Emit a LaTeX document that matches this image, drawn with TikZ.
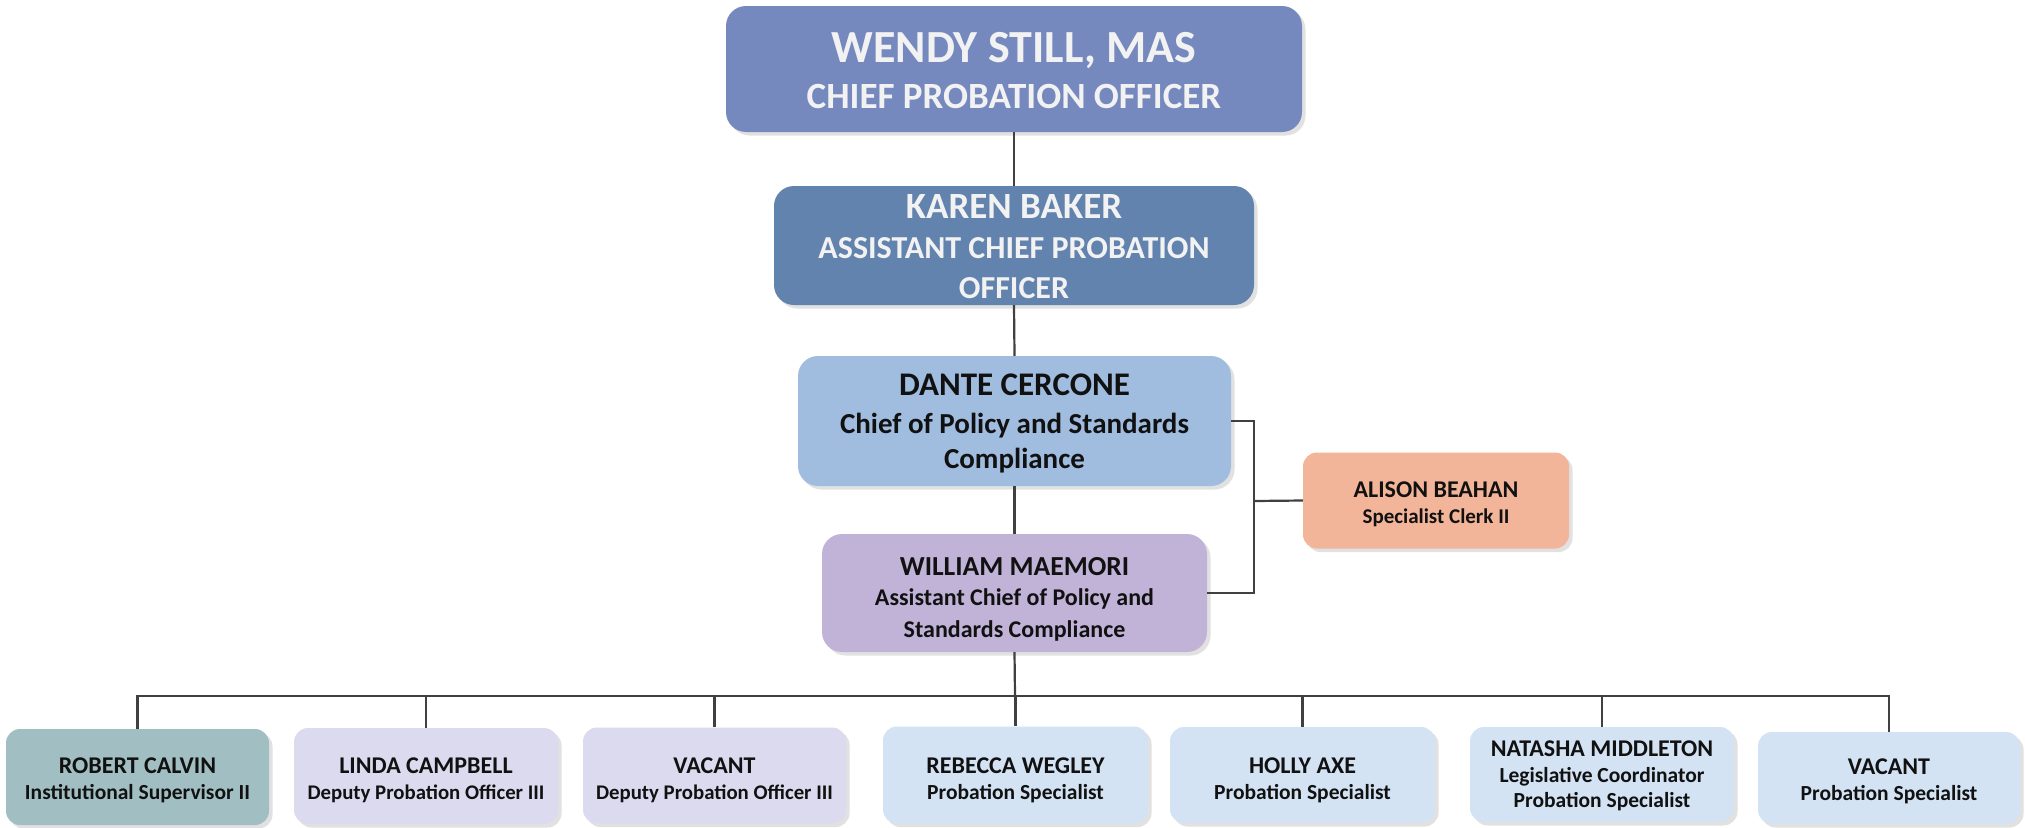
\documentclass[tikz,border=0pt]{standalone}
\usepackage{fontspec}
\setmainfont{Carlito}
\usetikzlibrary{shadows}
\definecolor{cWendy}{RGB}{118,137,191}
\definecolor{cKaren}{RGB}{98,131,174}
\definecolor{cDante}{RGB}{160,189,224}
\definecolor{cWill}{RGB}{193,179,216}
\definecolor{cAlison}{RGB}{243,181,154}
\definecolor{cRobert}{RGB}{161,191,194}
\definecolor{cDPO}{RGB}{220,218,239}
\definecolor{cPS}{RGB}{211,227,244}
\definecolor{cLine}{RGB}{64,64,64}
\definecolor{cShadow}{RGB}{225,225,225}
\definecolor{cWhiteText}{RGB}{242,242,242}
\definecolor{cDarkText}{RGB}{17,17,17}
\newcommand\orgfs[1]{\fontsize{#1}{#1}\selectfont}
\begin{document}
\begin{tikzpicture}[x=1pt,y=-1pt,
  orgbox/.style={rectangle, rounded corners=20pt, inner sep=0pt,
    drop shadow={shadow xshift=3.5pt, shadow yshift=-3.5pt, fill=cShadow, opacity=1}},
  smallbox/.style={orgbox, rounded corners=14pt},
  lbl/.style={anchor=base, inner sep=0pt, font=\bfseries, text=cDarkText},
  wlbl/.style={lbl, text=cWhiteText},
  conn/.style={draw=cLine, line width=2.2pt}
]
\useasboundingbox[fill=white] (0,0) rectangle (2025,827);

% ---- boxes
\node[orgbox, fill=cWendy, minimum width=576pt, minimum height=126pt] (wendy) at (1014,69) {};
\node[orgbox, fill=cKaren, minimum width=480pt, minimum height=119pt] (karen) at (1014,245.5) {};
\node[orgbox, fill=cDante, minimum width=433pt, minimum height=130pt] (dante) at (1014.5,421) {};
\node[orgbox, fill=cWill, minimum width=385pt, minimum height=118pt] (william) at (1014.5,593) {};
\node[smallbox, fill=cAlison, minimum width=266pt, minimum height=96pt] (alison) at (1436,500.5) {};

\node[smallbox, fill=cRobert, minimum width=263pt, minimum height=96pt] (robert) at (137.5,777) {};
\node[smallbox, fill=cDPO, minimum width=264pt, minimum height=96pt] (linda) at (426,776) {};
\node[smallbox, fill=cDPO, minimum width=263pt, minimum height=96pt] (vacanta) at (714.5,775.5) {};
\node[smallbox, fill=cPS, minimum width=265pt, minimum height=97pt] (rebecca) at (1015.5,775) {};
\node[smallbox, fill=cPS, minimum width=265pt, minimum height=96pt] (holly) at (1302.5,775) {};
\node[smallbox, fill=cPS, minimum width=264pt, minimum height=95pt] (natasha) at (1602,774.5) {};
\node[smallbox, fill=cPS, minimum width=262pt, minimum height=92pt] (vacantb) at (1889,778) {};

% ---- texts
\node[wlbl, font=\bfseries\orgfs{46}] (wendyA) at (1014,62) {WENDY STILL, MAS};
\node[wlbl, font=\bfseries\orgfs{37}] (wendyB) at (1014,108) {CHIEF PROBATION OFFICER};

\node[wlbl, font=\bfseries\orgfs{37}] (karenA) at (1014,218) {KAREN BAKER};
\node[wlbl, font=\bfseries\orgfs{32}] (karenB) at (1014,258) {ASSISTANT CHIEF PROBATION};
\node[wlbl, font=\bfseries\orgfs{32}] (karenC) at (1014,298) {OFFICER};

\node[lbl, font=\bfseries\orgfs{33}] (danteA) at (1014.5,395) {DANTE CERCONE};
\node[lbl, font=\bfseries\orgfs{29}] (danteB) at (1014.5,433) {Chief of Policy and Standards};
\node[lbl, font=\bfseries\orgfs{29}] (danteC) at (1014.5,468) {Compliance};

\node[lbl, font=\bfseries\orgfs{27.5}] (willA) at (1014.5,575) {WILLIAM MAEMORI};
\node[lbl, font=\bfseries\orgfs{24}] (willB) at (1014.5,605) {Assistant Chief of Policy and};
\node[lbl, font=\bfseries\orgfs{24}] (willC) at (1014.5,637) {Standards Compliance};

\node[lbl, font=\bfseries\orgfs{24}] (alisonA) at (1436,497) {ALISON BEAHAN};
\node[lbl, font=\bfseries\orgfs{21}] (alisonB) at (1436,523) {Specialist Clerk II};

\node[lbl, font=\bfseries\orgfs{24}] (robertA) at (137.5,773) {ROBERT CALVIN};
\node[lbl, font=\bfseries\orgfs{21.5}] (robertB) at (137.5,799) {Institutional Supervisor II};

\node[lbl, font=\bfseries\orgfs{24}] (lindaA) at (426,773) {LINDA CAMPBELL};
\node[lbl, font=\bfseries\orgfs{20.8}] (lindaB) at (426,799) {Deputy Probation Officer III};

\node[lbl, font=\bfseries\orgfs{24}] (vacantaA) at (714.5,773) {VACANT};
\node[lbl, font=\bfseries\orgfs{20.8}] (vacantaB) at (714.5,799) {Deputy Probation Officer III};

\node[lbl, font=\bfseries\orgfs{24}] (rebeccaA) at (1015.5,773) {REBECCA WEGLEY};
\node[lbl, font=\bfseries\orgfs{21.5}] (rebeccaB) at (1015.5,799) {Probation Specialist};

\node[lbl, font=\bfseries\orgfs{24}] (hollyA) at (1302.5,773) {HOLLY AXE};
\node[lbl, font=\bfseries\orgfs{21.5}] (hollyB) at (1302.5,799) {Probation Specialist};

\node[lbl, font=\bfseries\orgfs{24}] (natashaA) at (1602,756) {NATASHA MIDDLETON};
\node[lbl, font=\bfseries\orgfs{21.5}] (natashaB) at (1602,782) {Legislative Coordinator};
\node[lbl, font=\bfseries\orgfs{21.5}] (natashaC) at (1602,807) {Probation Specialist};

\node[lbl, font=\bfseries\orgfs{24}] (vacantbA) at (1889,774) {VACANT};
\node[lbl, font=\bfseries\orgfs{21.5}] (vacantbB) at (1889,800) {Probation Specialist};

% ---- connectors
\coordinate (bus) at (1015,696);
\coordinate (side) at (1254,501);
\draw[conn] (wendy.south) -- (karen.north);
\draw[conn] (karen.south) -- (dante.north);
\draw[conn] (dante.south) -- (william.north);
\draw[conn] (william.south) -- (bus);
\draw[conn] (robert.north) |- (bus) -| (vacantb.north);
\foreach \n in {linda,vacanta,rebecca,holly,natasha}
  \draw[conn] (\n.north) -- (\n.north |- bus);
\draw[conn] (dante.east) -| (side) |- (william.east);
\draw[conn] (side) -- (alison.west);
\end{tikzpicture}
\end{document}
